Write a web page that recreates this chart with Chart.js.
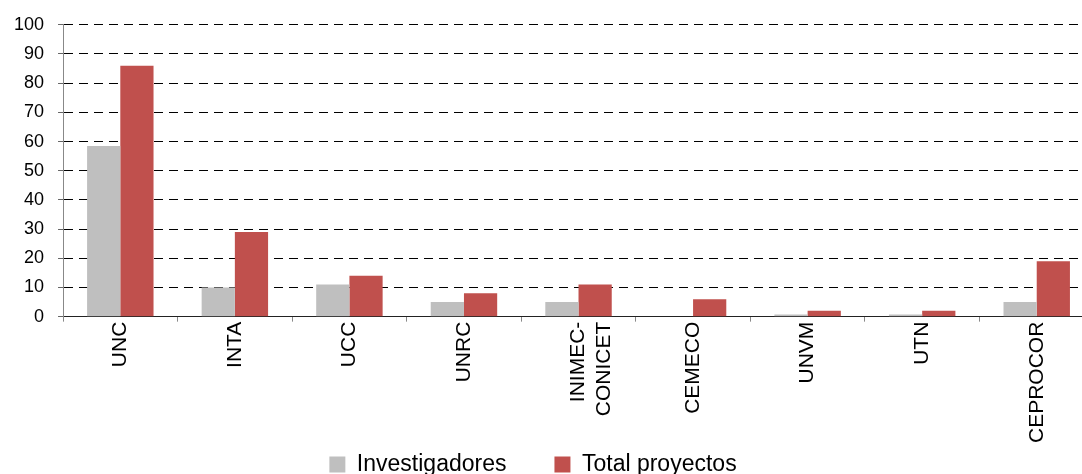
<!DOCTYPE html>
<html>
<head>
<meta charset="utf-8">
<script src="https://cdn.jsdelivr.net/npm/chart.js@4.4.0/dist/chart.umd.min.js"></script>
<style>
    html, body { margin: 0; padding: 0; background: #fff; overflow: hidden; }
    #wrap { width: 1100px; height: 474px; position: relative; }
</style>
</head>
<body>
<div id="wrap"><canvas id="bar-chart"></canvas></div>
<script>
const categories = ['UNC', 'INTA', 'UCC', 'UNRC', ['INIMEC-', 'CONICET'], 'CEMECO', 'UNVM', 'UTN', 'CEPROCOR'];
const investigadores = [58.5, 10, 11, 5, 5, 0, 0.7, 0.7, 5];
const totalProyectos = [86, 29, 14, 8, 11, 6, 2, 2, 19];
const yTicks = [0, 10, 20, 30, 40, 50, 60, 70, 80, 90, 100];

const font = 'Liberation Sans, Arial, sans-serif';
const legendGap = 48;

// legend: wide gap between the two items, but keep it short and low like the original
const legendTweak = {
    id: 'legendTweak',
    afterInit(chart) {
        const legend = chart.legend;
        const fit = legend.fit;
        legend.fit = function () {
            fit.call(this);
            this.height = 31;
        };
    },
    afterLayout(chart) {
        const legend = chart.legend;
        legend.left -= 14;
        legend.right -= 14;
        // items are drawn at top + padding, so move only the top edge up
        legend.top = 465 - legendGap - 12;
        legend.bottom = chart.height;
    }
};

function drawBarChart() {
    const ctx = document.getElementById('bar-chart').getContext('2d');

    window.barChart = new Chart(ctx, {
        type: 'bar',
        data: {
            labels: categories,
            datasets: [{
                label: 'Investigadores',
                data: investigadores,
                backgroundColor: '#BFBFBF',
                categoryPercentage: 0.58,
                barPercentage: 1.0
            }, {
                label: 'Total proyectos',
                data: totalProyectos,
                backgroundColor: '#C0504D',
                categoryPercentage: 0.58,
                barPercentage: 1.0
            }]
        },
        options: {
            responsive: true,
            maintainAspectRatio: false,
            animation: false,
            layout: {
                padding: { left: 0, right: 6, top: 18, bottom: 0 }
            },
            plugins: {
                tooltip: { enabled: false },
                legend: {
                    position: 'bottom',
                    labels: {
                        color: '#000',
                        boxWidth: 16,
                        boxHeight: 16,
                        padding: legendGap,
                        font: { family: font, size: 23 }
                    }
                }
            },
            scales: {
                x: {
                    border: { display: true, color: '#222', width: 1 },
                    grid: {
                        drawOnChartArea: false,
                        drawTicks: true,
                        tickLength: 5,
                        color: '#888'
                    },
                    ticks: {
                        autoSkip: false,
                        minRotation: 90,
                        maxRotation: 90,
                        padding: 0,
                        color: '#000',
                        font: { family: font, size: 21 }
                    }
                },
                y: {
                    min: 0,
                    max: 100,
                    afterBuildTicks: axis => { axis.ticks = yTicks.map(v => ({ value: v })); },
                    border: { display: true, color: '#888', width: 1, dash: [9, 6] },
                    grid: {
                        color: '#000',
                        lineWidth: 1,
                        tickLength: 5,
                        tickColor: '#666',
                        tickBorderDash: []
                    },
                    ticks: {
                        padding: 14,
                        color: '#000',
                        font: { family: font, size: 18 }
                    }
                }
            }
        },
        plugins: [legendTweak]
    });
}

document.addEventListener('DOMContentLoaded', () => {
    drawBarChart();
});
</script>
</body>
</html>
